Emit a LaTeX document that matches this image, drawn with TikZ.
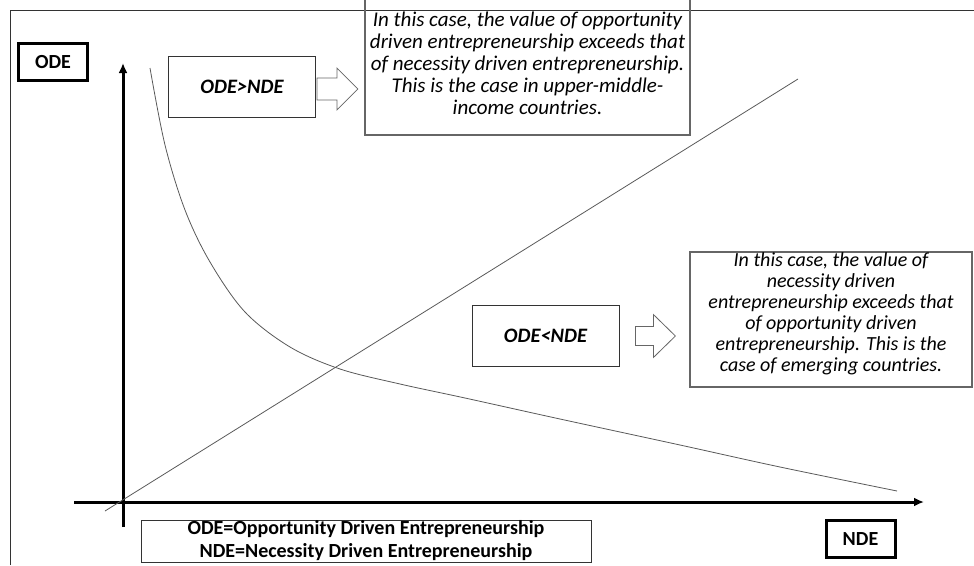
\documentclass[tikz,border=0pt]{standalone}
\usepackage{fontspec}
\setmainfont{Carlito}
\usetikzlibrary{positioning, calc, arrows.meta}

\begin{document}
\begin{tikzpicture}[x=1pt, y=-1pt,
        axislbl/.style={draw=black, line width=3pt, inner sep=0pt, minimum width=69pt, minimum height=37pt, font=\fontsize{20}{22}\selectfont\bfseries},
        casebox/.style={draw=black!80, line width=0.8pt, inner sep=0pt, minimum width=147pt, minimum height=61pt, font=\fontsize{20.5}{22}\selectfont\bfseries\itshape},
        notebox/.style={draw=black!60, line width=1.2pt, align=center, inner sep=0pt, font=\fontsize{20}{21}\selectfont\itshape},
        axisline/.style={line width=3pt, -{Latex[length=10pt, width=9pt]}},
        graphline/.style={draw=black!65, line width=0.8pt},
        blockarr/.style={draw=black!60, line width=0.8pt, fill=white}
    ]
        \useasboundingbox (0,0) rectangle (974,565);
        \newcommand{\blockArrow}[5]{% back centre, shaft half, head half, shaft length, total length
            \draw[blockarr] ($(#1)+(0,-#2)$) -- ++(#4,0) -- ++(0,{#2-#3}) -- ++({#5-#4},#3)
                -- ++({#4-#5},#3) -- ++(0,{#2-#3}) -- ++(-#4,0) -- cycle;}

        % frame
        \draw[black!80, line width=1pt] (10,565) -- (10,10) -- (974,10);

        % axes
        \coordinate (origin) at (123,502);
        \draw[axisline] ($(origin)+(0,25)$) -- (123,63);
        \draw[axisline] ($(origin)+(-49,0)$) -- (924,502);
        \node[axislbl] (odeLbl) at (53,62) {ODE};
        \node[axislbl] (ndeLbl) at (860.5,539) {NDE};

        % straight line and curve
        \draw[graphline] (105,511) -- (798,79);
        \draw[graphline] plot[smooth, tension=0.55] coordinates {(150,68) (165,145) (185,210) (210,262)
            (245,312) (290,347) (340,369) (400,384) (465,398) (560,419) (680,445) (780,467) (897,491)};

        % cases
        \node[casebox] (odeGt) at (242,87) {ODE>NDE};
        \node[casebox] (odeLt) at (545.5,336) {ODE<NDE};
        \coordinate (gtArr) at ($(odeGt.east)+(1,2)$);
        \coordinate (ltArr) at ($(odeLt.east)+(16,0)$);
        \blockArrow{gtArr}{11}{21}{20}{41}
        \blockArrow{ltArr}{9.5}{21.5}{18}{40}

        \node[notebox, minimum width=325pt, minimum height=156pt, font=\fontsize{21}{22}\selectfont\itshape] (gtNote) at (527.5,57)
            {\rule{0pt}{27pt}In this case, the value of opportunity\\driven entrepreneurship exceeds that\\of necessity driven entrepreneurship.\\This is the case in upper-middle-\\income countries.};
        \node[notebox, minimum width=282pt, minimum height=135pt] (ltNote) at (831,319.5)
            {In this case, the value of\\necessity driven\\entrepreneurship exceeds that\\of opportunity driven\\entrepreneurship. This is the\\case of emerging countries.\rule[-14pt]{0pt}{0pt}};

        % legend
        \node[draw=black!80, line width=0.8pt, inner sep=0pt, minimum width=450pt, minimum height=42pt, align=center,
            font=\fontsize{20}{23}\selectfont\bfseries] (legend) at (366,541)
            {ODE=Opportunity Driven Entrepreneurship\\NDE=Necessity Driven Entrepreneurship};
    \end{tikzpicture}
\end{document}
